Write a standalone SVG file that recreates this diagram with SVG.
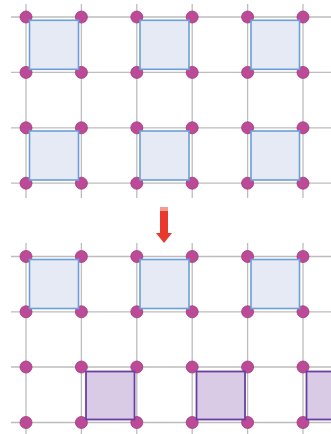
<svg xmlns="http://www.w3.org/2000/svg" width="331" height="434" viewBox="0 0 331 434">
<defs>
<style>
.g{stroke:#bdbdbd;stroke-width:1.3;fill:none}
.d{fill:#bd4a97;stroke:#9c3a7c;stroke-width:0.8}
.b{fill:#e6eaf5;stroke:#6b9fd6;stroke-width:1.6}
.p{fill:#d9cbe5;stroke:#6a3fa3;stroke-width:1.8}
</style>
<linearGradient id="ag" x1="0" y1="0" x2="0" y2="1">
<stop offset="0" stop-color="#f59a90"/>
<stop offset="0.1" stop-color="#f59a90"/>
<stop offset="0.12" stop-color="#e8392c"/>
<stop offset="1" stop-color="#e8392c"/>
</linearGradient>
</defs>
<rect width="331" height="434" fill="#ffffff"/>
<g id="connectors">
<path class="g" d="M11 17H331M11 72.4H331M11 127.8H331M11 183.2H331M26 4V198M81.4 4V198M136.8 4V198M192.2 4V198M247.6 4V198M303 4V198"/>
<path class="g" d="M11 256.5H331M11 311.8H331M11 367H331M11 422.5H331M26 243V434M81.4 243V434M136.8 243V434M192.2 243V434M247.6 243V434M303 243V434"/>
</g>
<g id="dots-top">
<circle class="d" cx="26" cy="17" r="6"/><circle class="d" cx="81.4" cy="17" r="6"/><circle class="d" cx="136.8" cy="17" r="6"/><circle class="d" cx="192.2" cy="17" r="6"/><circle class="d" cx="247.6" cy="17" r="6"/><circle class="d" cx="303" cy="17" r="6"/>
<circle class="d" cx="26" cy="72.4" r="6"/><circle class="d" cx="81.4" cy="72.4" r="6"/><circle class="d" cx="136.8" cy="72.4" r="6"/><circle class="d" cx="192.2" cy="72.4" r="6"/><circle class="d" cx="247.6" cy="72.4" r="6"/><circle class="d" cx="303" cy="72.4" r="6"/>
<circle class="d" cx="26" cy="127.8" r="6"/><circle class="d" cx="81.4" cy="127.8" r="6"/><circle class="d" cx="136.8" cy="127.8" r="6"/><circle class="d" cx="192.2" cy="127.8" r="6"/><circle class="d" cx="247.6" cy="127.8" r="6"/><circle class="d" cx="303" cy="127.8" r="6"/>
<circle class="d" cx="26" cy="183.2" r="6"/><circle class="d" cx="81.4" cy="183.2" r="6"/><circle class="d" cx="136.8" cy="183.2" r="6"/><circle class="d" cx="192.2" cy="183.2" r="6"/><circle class="d" cx="247.6" cy="183.2" r="6"/><circle class="d" cx="303" cy="183.2" r="6"/>
</g>
<g id="dots-bottom">
<circle class="d" cx="26" cy="256.5" r="6"/><circle class="d" cx="81.4" cy="256.5" r="6"/><circle class="d" cx="136.8" cy="256.5" r="6"/><circle class="d" cx="192.2" cy="256.5" r="6"/><circle class="d" cx="247.6" cy="256.5" r="6"/><circle class="d" cx="303" cy="256.5" r="6"/>
<circle class="d" cx="26" cy="311.8" r="6"/><circle class="d" cx="81.4" cy="311.8" r="6"/><circle class="d" cx="136.8" cy="311.8" r="6"/><circle class="d" cx="192.2" cy="311.8" r="6"/><circle class="d" cx="247.6" cy="311.8" r="6"/><circle class="d" cx="303" cy="311.8" r="6"/>
<circle class="d" cx="26" cy="367" r="6"/><circle class="d" cx="81.4" cy="367" r="6"/><circle class="d" cx="136.8" cy="367" r="6"/><circle class="d" cx="192.2" cy="367" r="6"/><circle class="d" cx="247.6" cy="367" r="6"/><circle class="d" cx="303" cy="367" r="6"/>
<circle class="d" cx="26" cy="422.5" r="6"/><circle class="d" cx="81.4" cy="422.5" r="6"/><circle class="d" cx="136.8" cy="422.5" r="6"/><circle class="d" cx="192.2" cy="422.5" r="6"/><circle class="d" cx="247.6" cy="422.5" r="6"/><circle class="d" cx="303" cy="422.5" r="6"/>
</g>
<g id="top-squares">
<rect class="b" x="29.5" y="20.3" width="49" height="49"/>
<rect class="b" x="140" y="20.3" width="49" height="49"/>
<rect class="b" x="251" y="20.3" width="48.5" height="49"/>
<rect class="b" x="29.5" y="131" width="49" height="49"/>
<rect class="b" x="140" y="131" width="49" height="49"/>
<rect class="b" x="251" y="131" width="48.5" height="49"/>
</g>
<g id="arrow">
<path d="M160 207H168V233H172L164 243L156 233H160Z" fill="url(#ag)"/>
</g>
<g id="bottom-squares">
<rect class="b" x="29.5" y="259.5" width="49" height="49"/>
<rect class="b" x="140" y="259.5" width="49" height="49"/>
<rect class="b" x="251" y="259.5" width="48.5" height="49"/>
</g>
<g id="purple-squares">
<rect class="p" x="86" y="371.5" width="48.5" height="48"/>
<rect class="p" x="196.5" y="371.5" width="48.5" height="48"/>
<rect class="p" x="306.5" y="371.5" width="48.5" height="48"/>
</g>
</svg>
